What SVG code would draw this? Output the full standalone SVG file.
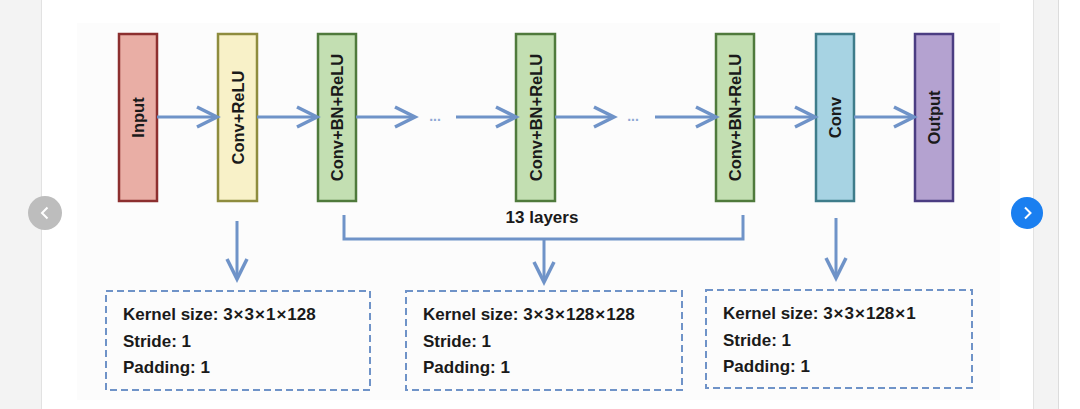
<svg xmlns="http://www.w3.org/2000/svg" width="1080" height="409" viewBox="0 0 1080 409">
<style>
.lbl{font-family:"Liberation Sans",Arial,sans-serif;font-weight:bold;font-size:16.5px;fill:#1a1a1a;text-anchor:middle;dominant-baseline:central}
.info{font-family:"Liberation Sans",Arial,sans-serif;font-weight:bold;font-size:17px;fill:#1a1a1a}
.node{stroke-width:2.5}
.ln{fill:none;stroke:#6f93c8;stroke-width:3}
.hd{fill:none;stroke:#6f93c8;stroke-width:3.5;stroke-linejoin:miter}
.dash{fill:none;stroke:#6f93c8;stroke-width:2;stroke-dasharray:7 4}
</style>
<rect x="0" y="0" width="1080" height="409" fill="#ffffff"/>
<rect x="0" y="0" width="41" height="409" fill="#f3f3f3"/>
<line x1="41.5" y1="0" x2="41.5" y2="409" stroke="#e2e2e2" stroke-width="1"/>
<rect x="1033" y="0" width="25" height="409" fill="#f3f3f3"/>
<line x1="1033.5" y1="0" x2="1033.5" y2="409" stroke="#e2e2e2" stroke-width="1"/>
<line x1="1058.5" y1="0" x2="1058.5" y2="409" stroke="#dcdcdc" stroke-width="1"/>
<rect x="77" y="23" width="923" height="377" fill="#fcfcfc"/>

<g id="input"><rect class="node" x="119" y="34" width="38" height="167" fill="#e9aea5" stroke="#8c2f2f"/><text class="lbl" transform="translate(138,117.5) rotate(-90)">Input</text></g>
<g id="conv-relu"><rect class="node" x="218" y="34" width="39" height="167" fill="#f8f1c8" stroke="#8e8c3e"/><text class="lbl" transform="translate(237.5,117.5) rotate(-90)">Conv+ReLU</text></g>
<g id="cbr1"><rect class="node" x="318" y="34" width="38" height="167" fill="#c3dfb2" stroke="#4f7a3c"/><text class="lbl" transform="translate(337,117.5) rotate(-90)">Conv+BN+ReLU</text></g>
<g id="cbr2"><rect class="node" x="516" y="34" width="39" height="167" fill="#c3dfb2" stroke="#4f7a3c"/><text class="lbl" transform="translate(535.5,117.5) rotate(-90)">Conv+BN+ReLU</text></g>
<g id="cbr3"><rect class="node" x="716" y="34" width="38" height="167" fill="#c3dfb2" stroke="#4f7a3c"/><text class="lbl" transform="translate(735,117.5) rotate(-90)">Conv+BN+ReLU</text></g>
<g id="conv"><rect class="node" x="816" y="34" width="38" height="167" fill="#a7d3e3" stroke="#3e7c8a"/><text class="lbl" transform="translate(835,117.5) rotate(-90)">Conv</text></g>
<g id="output"><rect class="node" x="915" y="34" width="38" height="167" fill="#b4a2d0" stroke="#4b3d82"/><text class="lbl" transform="translate(934,117.5) rotate(-90)">Output</text></g>

<g id="connectors">
<path class="ln" d="M157,117H216M257,117H316M356,117H414M456,117H515M555,117H613M655,117H715M754,117H814M854,117H913"/>
<path class="hd" d="M197,107L217,117L197,127M297,107L317,117L297,127M395,107L415,117L395,127M496,107L516,117L496,127M594,107L614,117L594,127M696,107L716,117L696,127M795,107L815,117L795,127M894,107L914,117L894,127"/>
<text x="435" y="121" font-family="Liberation Sans,Arial,sans-serif" font-size="14" font-weight="bold" fill="#8fa8d4" text-anchor="middle">...</text>
<text x="633" y="121" font-family="Liberation Sans,Arial,sans-serif" font-size="14" font-weight="bold" fill="#8fa8d4" text-anchor="middle">...</text>
<path class="ln" d="M344,215V239H743V215"/>
<path class="ln" d="M544,239V281M237,221V278M836,218V277"/>
<path class="hd" d="M534,262L544,282L554,262M227,259L237,279L247,259M826,258L836,278L846,258"/>
</g>
<text class="info" x="542" y="223" text-anchor="middle">13 layers</text>

<g id="info1"><rect class="dash" x="106" y="291" width="264" height="99"/>
<text class="info" x="123" y="320">Kernel size: 3<tspan dx="1">×</tspan><tspan dx="1">3</tspan><tspan dx="1">×</tspan><tspan dx="1">1</tspan><tspan dx="1">×</tspan><tspan dx="1">128</tspan></text><text class="info" x="123" y="347">Stride: 1</text><text class="info" x="123" y="373">Padding: 1</text></g>
<g id="info2"><rect class="dash" x="406" y="291" width="276" height="99"/>
<text class="info" x="423" y="320">Kernel size: 3<tspan dx="1">×</tspan><tspan dx="1">3</tspan><tspan dx="1">×</tspan><tspan dx="1">128</tspan><tspan dx="1">×</tspan><tspan dx="1">128</tspan></text><text class="info" x="423" y="347">Stride: 1</text><text class="info" x="423" y="373">Padding: 1</text></g>
<g id="info3"><rect class="dash" x="706" y="290" width="266" height="98"/>
<text class="info" x="723" y="319">Kernel size: 3<tspan dx="1">×</tspan><tspan dx="1">3</tspan><tspan dx="1">×</tspan><tspan dx="1">128</tspan><tspan dx="1">×</tspan><tspan dx="1">1</tspan></text><text class="info" x="723" y="346">Stride: 1</text><text class="info" x="723" y="372">Padding: 1</text></g>

<g id="nav-prev"><circle cx="45" cy="213" r="17" fill="#bdbdbd"/><path d="M47.5,207.5L42,213L47.5,218.5" fill="none" stroke="#ffffff" stroke-width="2"/></g>
<g id="nav-next"><circle cx="1027" cy="213" r="16" fill="#1a7ff0"/><path d="M1025,207.5L1030.5,213L1025,218.5" fill="none" stroke="#ffffff" stroke-width="2"/></g>
</svg>
